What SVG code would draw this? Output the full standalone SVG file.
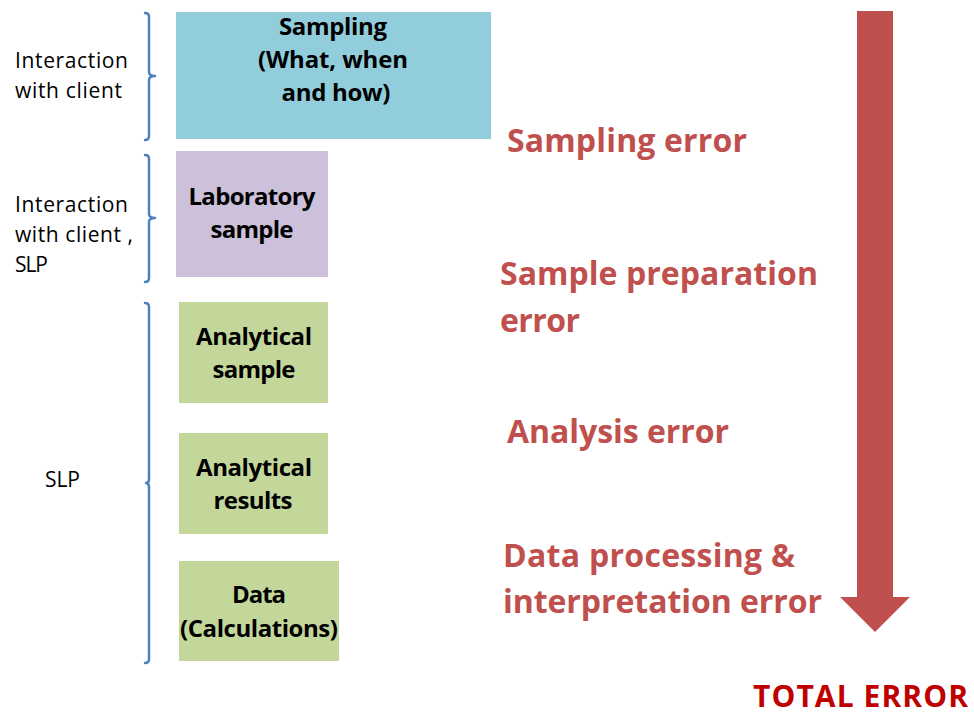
<svg xmlns="http://www.w3.org/2000/svg" width="974" height="715" viewBox="0 0 974 715">
<style>
.lbl{font-family:"Open Sans","Liberation Sans",sans-serif;font-size:21px;fill:#000}
.box{font-family:"Open Sans","Liberation Sans",sans-serif;font-size:24px;font-weight:bold;fill:#000;text-anchor:middle}
.err{font-family:"Open Sans","Liberation Sans",sans-serif;font-size:32px;font-weight:bold;fill:#C0504D}
.tot{font-family:"Open Sans","Liberation Sans",sans-serif;font-size:30px;font-weight:bold;fill:#C00000}
.br{fill:none;stroke:#4F81BD;stroke-width:2.5;stroke-linecap:round;stroke-linejoin:round}
</style>
<rect width="974" height="715" fill="#fff"/>
<g id="connectors">
<path class="br" d="M145,13 Q149,13 149,17 L149,72 Q149,76 155,76 Q149,76 149,80 L149,136 Q149,140 145,140"/>
<path class="br" d="M145,155 Q149,155 149,159 L149,214 Q149,218 155,218 Q149,218 149,222 L149,278 Q149,282 145,282"/>
<path class="br" d="M145,303 Q149,303 149,307 L149,479 Q149,483 146,483 Q149,483 149,487 L149,659 Q149,663 145,663"/>
<polygon id="total-arrow" points="857,11 893,11 893,597 910,597 875,632 840,597 857,597" fill="#C0504D"/>
</g>
<g id="label-client">
<text class="lbl" x="15" y="68" textLength="113">Interaction</text>
<text class="lbl" x="15" y="98" textLength="107">with client</text>
</g>
<g id="label-client-slp">
<text class="lbl" x="15" y="212" textLength="113">Interaction</text>
<text class="lbl" x="15" y="242" textLength="118">with client ,</text>
<text class="lbl" x="15" y="272" textLength="33">SLP</text>
</g>
<g id="label-slp">
<text class="lbl" x="45" y="487" textLength="35">SLP</text>
</g>
<g id="node-sampling">
<rect x="176" y="12" width="315" height="127" fill="#92CDDC"/>
<text class="box" x="333" y="35" textLength="108">Sampling</text>
<text class="box" x="333" y="68" textLength="150">(What, when</text>
<text class="box" x="336" y="101" textLength="109">and how)</text>
</g>
<g id="node-lab-sample">
<rect x="176" y="151" width="152" height="126" fill="#CCC0DA"/>
<text class="box" x="252" y="205" textLength="127">Laboratory</text>
<text class="box" x="252" y="238" textLength="83">sample</text>
</g>
<g id="node-analytical-sample">
<rect x="179" y="302" width="149" height="101" fill="#C4D79B"/>
<text class="box" x="254" y="345" textLength="116">Analytical</text>
<text class="box" x="254" y="378" textLength="83">sample</text>
</g>
<g id="node-analytical-results">
<rect x="179" y="433" width="149" height="101" fill="#C4D79B"/>
<text class="box" x="254" y="476" textLength="116">Analytical</text>
<text class="box" x="253" y="509" textLength="79">results</text>
</g>
<g id="node-data">
<rect x="179" y="561" width="160" height="100" fill="#C4D79B"/>
<text class="box" x="259" y="603" textLength="54">Data</text>
<text class="box" x="259" y="637" textLength="158">(Calculations)</text>
</g>
<g id="errors">
<text class="err" x="507" y="152" textLength="240">Sampling error</text>
<text class="err" x="500" y="285" textLength="318">Sample preparation</text>
<text class="err" x="500" y="332" textLength="80">error</text>
<text class="err" x="507" y="443" textLength="222">Analysis error</text>
<text class="err" x="503" y="567" textLength="292">Data processing &amp;</text>
<text class="err" x="503" y="613" textLength="319">interpretation error</text>
<text class="tot" x="753" y="707" textLength="215">TOTAL ERROR</text>
</g>
</svg>
